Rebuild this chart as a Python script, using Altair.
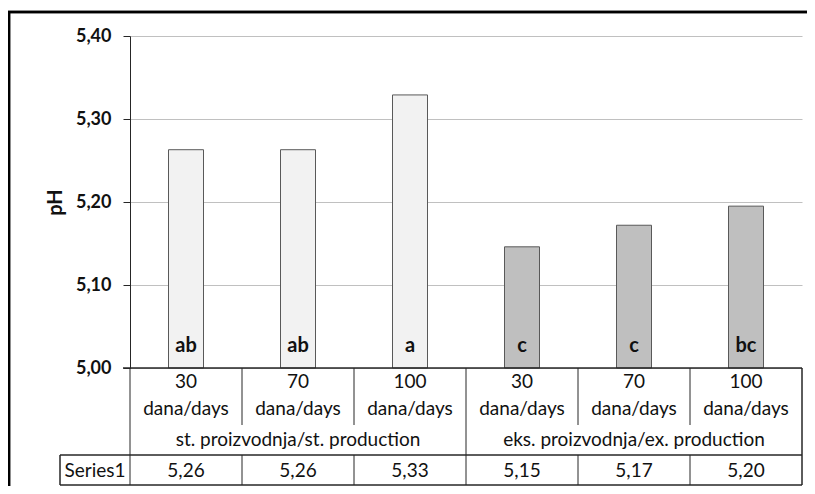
import altair as alt
import pandas as pd

ids = ["s30", "s70", "s100", "e30", "e70", "e100"]
days = ["30", "70", "100", "30", "70", "100"]
day_word = ["dana/days"] * 6
groups = ["st. proizvodnja/st. production"] * 3 + ["eks. proizvodnja/ex. production"] * 3
values = [5.263, 5.263, 5.329, 5.146, 5.172, 5.195]
table_values = ["5,26", "5,26", "5,33", "5,15", "5,17", "5,20"]
letters = ["ab", "ab", "a", "c", "c", "bc"]
fills = ["#f2f2f2"] * 3 + ["#bfbfbf"] * 3
y_ticks = [5.0, 5.1, 5.2, 5.3, 5.4]
series_name = "Series1"

df = pd.DataFrame({"id": ids, "days": days, "word": day_word, "group": groups,
                   "value": values, "tv": table_values, "letter": letters, "fill": fills})
grp = pd.DataFrame({"id": ["s70", "e70"], "group": [groups[0], groups[3]]})
short_div = pd.DataFrame({"id": ["s70", "s100", "e70", "e100"]})
full_div = pd.DataFrame({"id": ["s30", "e30"]})

FONT = "Lato"
W, H = 672, 332
STEP = W / 6
LINE = "#262626"
TXT = "#111111"
FS = 19

xs = alt.X("id:N", sort=ids, axis=None,
           scale=alt.Scale(paddingInner=0.6875, paddingOuter=0.34375))

base = alt.Chart(df)

bars = base.mark_bar(stroke="#595959", strokeWidth=1).encode(
    x=xs,
    y=alt.Y("value:Q", scale=alt.Scale(domain=[5.0, 5.4], zero=False, nice=False),
            axis=alt.Axis(values=y_ticks, title="pH",
                          labelExpr="replace(format(datum.value, '.2f'), '.', ',')",
                          labelFont=FONT, labelFontSize=18, labelFontWeight="bold",
                          labelColor=TXT, labelPadding=12,
                          titleFont=FONT, titleFontSize=20, titleFontWeight="bold",
                          titleColor=TXT, titlePadding=10,
                          tickSize=7, tickColor=LINE, domainColor=LINE,
                          gridColor="#c0c0c0", grid=True)),
    y2=alt.datum(5.0),
    fill=alt.Fill("fill:N", scale=None),
)

letter_txt = base.mark_text(font=FONT, fontSize=20, fontWeight="bold", color=TXT,
                            baseline="middle").encode(
    x=xs, y=alt.value(310), text="letter:N")

day_txt = base.mark_text(font=FONT, fontSize=FS, color=TXT, baseline="middle").encode(
    x=xs, y=alt.value(346), text="days:N")
word_txt = base.mark_text(font=FONT, fontSize=FS, color=TXT, baseline="middle").encode(
    x=xs, y=alt.value(373), text="word:N")
val_txt = base.mark_text(font=FONT, fontSize=FS, color=TXT, baseline="middle").encode(
    x=xs, y=alt.value(435), text="tv:N")
grp_txt = alt.Chart(grp).mark_text(font=FONT, fontSize=FS, color=TXT, baseline="middle").encode(
    x=alt.X("id:N", sort=ids, axis=None), y=alt.value(404), text="group:N")
ser_txt = alt.Chart(pd.DataFrame({"t": [series_name]})).mark_text(
    font=FONT, fontSize=FS, color=TXT, baseline="middle").encode(
    x=alt.value(-35), y=alt.value(435), text="t:N")

short_rules = alt.Chart(short_div).mark_rule(color=LINE, xOffset=-STEP / 2).encode(
    x=alt.X("id:N", sort=ids, axis=None), y=alt.value(H), y2=alt.value(389))
row_rules = alt.Chart(short_div).mark_rule(color=LINE, xOffset=-STEP / 2).encode(
    x=alt.X("id:N", sort=ids, axis=None), y=alt.value(419), y2=alt.value(449))
full_rules = alt.Chart(full_div).mark_rule(color=LINE, xOffset=-STEP / 2).encode(
    x=alt.X("id:N", sort=ids, axis=None), y=alt.value(H), y2=alt.value(449))
right_rule = alt.Chart(full_div).mark_rule(color=LINE).encode(
    x=alt.value(W), y=alt.value(H), y2=alt.value(449))
bottom_axis = alt.Chart(full_div).mark_rule(color=LINE).encode(
    x=alt.value(-7), x2=alt.value(W), y=alt.value(H))
h1 = alt.Chart(full_div).mark_rule(color=LINE).encode(
    x=alt.value(-70), x2=alt.value(W), y=alt.value(419))
h2 = alt.Chart(full_div).mark_rule(color=LINE).encode(
    x=alt.value(-70), x2=alt.value(W), y=alt.value(449))
ser_left = alt.Chart(full_div).mark_rule(color=LINE).encode(
    x=alt.value(-70), y=alt.value(419), y2=alt.value(449))
frame_top = alt.Chart(full_div).mark_rule(color="#000", strokeWidth=2.5).encode(
    x=alt.value(-122), x2=alt.value(W + 5), y=alt.value(-24))
frame_left = alt.Chart(full_div).mark_rule(color="#000", strokeWidth=2.5).encode(
    x=alt.value(-121), y=alt.value(-25), y2=alt.value(460))

chart = alt.layer(
    bars, letter_txt, day_txt, word_txt, val_txt, grp_txt, ser_txt,
    short_rules, row_rules, full_rules, right_rule, bottom_axis, h1, h2, ser_left,
    frame_top, frame_left,
).properties(
    width=W, height=H,
    autosize=alt.AutoSizeParams(type="none"),
    padding={"left": 122, "top": 28, "right": 5, "bottom": 118},
    background="white",
).configure_view(strokeWidth=0)

chart.save("out.html", embed_options={"renderer": "svg", "actions": False})
